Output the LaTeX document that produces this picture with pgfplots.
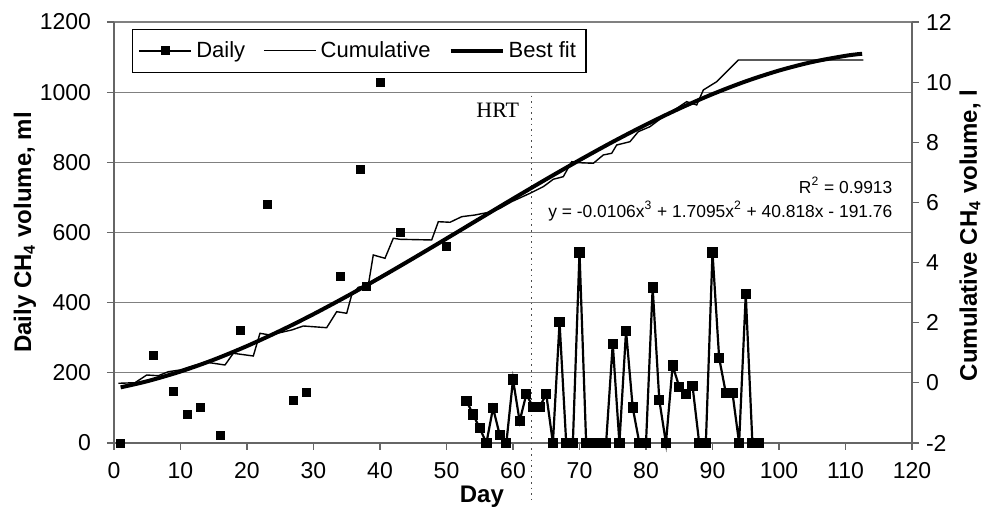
\documentclass[border=0pt]{standalone}
\usepackage{pgfplots}
\pgfplotsset{compat=1.18}
\usepackage{fontspec}
\setmainfont{Liberation Sans}
\newfontfamily\serifhrt{Liberation Serif}

\pgfplotstableread{
day ml
1 0
6 250
9 148
11 81
13 102
16 21
19 320
23 680
27 122
29 145
34 475
37 781
38 445
40 1028
43 600
50 560
}\dailyearly

\pgfplotstableread{
day ml
53 120
54 81
55 42
56 0
57 100
58 23
59 0
60 181
61 62
62 139
63 103
64 103
65 139
66 0
67 344
68 0
69 0
70 543
71 0
72 0
73 0
74 0
75 283
76 0
77 320
78 101
79 0
80 0
81 443
82 122
83 0
84 221
85 160
86 139
87 162
88 0
89 0
90 543
91 242
92 143
93 143
94 0
95 424
96 0
97 0
}\dailylate

\pgfplotstableread{
day L
0.65 -0.015
3.16 0.005
4.92 0.261
6.66 0.238
8.17 0.371
9.92 0.428
11.92 0.571
13.94 0.684
16.69 0.594
17.94 0.983
20.95 0.893
21.95 1.648
23.46 1.592
26.72 1.758
28.47 1.891
31.98 1.834
33.49 2.367
34.99 2.313
35.74 2.922
36.74 3.178
38.24 3.254
38.99 4.252
40.75 4.142
42.00 4.808
43.00 4.774
47.77 4.751
48.77 5.359
50.53 5.340
52.29 5.526
54.29 5.582
56.80 5.692
58.05 5.805
59.80 6.025
62.56 6.304
64.56 6.524
66.06 6.770
67.56 6.856
68.83 7.355
69.82 7.322
72.08 7.302
73.58 7.578
74.84 7.634
75.59 7.910
77.59 8.020
78.84 8.353
80.60 8.519
82.60 8.851
84.62 9.131
86.12 9.350
87.62 9.240
88.62 9.739
90.63 10.015
92.14 10.348
93.88 10.737
112.68 10.737
}\cumul

\pgfplotstableread{
day L
1 -0.149
5 0.054
10 0.377
15 0.769
20 1.224
25 1.732
30 2.285
35 2.877
40 3.498
45 4.141
50 4.798
55 5.461
60 6.122
65 6.773
70 7.406
75 8.014
80 8.587
85 9.119
90 9.601
95 10.026
100 10.385
105 10.670
110 10.875
112.5 10.944
}\bestfit

\begin{document}
\begin{tikzpicture}
\useasboundingbox (-57pt,-34.5pt) rectangle (434.5pt,221.5pt);
\begin{axis}[
  at={(0,0)}, anchor=south west,
  scale only axis, width=399pt, height=210.5pt,
  xmin=0, xmax=120, ymin=0, ymax=1200,
  xtick={0,10,...,120}, ytick={0,200,...,1200},
  axis y line*=left, axis x line*=bottom,
  ymajorgrids, grid style={black!50, line width=0.6pt},
  axis line style={black!60, line width=0.6pt},
  tick style={black!60, line width=0.6pt},
  tick align=outside, major tick length=3.5pt,
  /pgf/number format/assume math mode=true,
  /pgf/number format/1000 sep={},
  ticklabel style={font=\fontsize{11.5}{13}\selectfont},
  yticklabel style={xshift=-4.5pt},
  xticklabel style={yshift=-2.5pt},
  xlabel={\textbf{Day}},
  ylabel={\textbf{Daily CH\textsubscript{4} volume, ml}},
  label style={font=\fontsize{12}{14}\selectfont},
  xlabel style={at={(axis description cs:0.461,-0.128)}, anchor=center},
  ylabel style={at={(axis description cs:-0.1115,0.5)}, anchor=center},
  clip=false,
]
\addplot[black!70, dotted, line width=0.8pt] coordinates {(62.8,990) (62.8,-170)};
\addplot[only marks, mark=square*, mark size=2pt, black] table[x=day,y=ml] {\dailyearly};
\addplot[black, line width=1.1pt, mark=square*, mark size=2pt, mark options={solid}] table[x=day,y=ml] {\dailylate};
\node[font=\serifhrt\fontsize{11}{13}\selectfont] at (axis cs:57.7,949) {HRT};
\node[anchor=east, font=\fontsize{8.7}{10}\selectfont, inner sep=0pt] at (axis cs:117.1,735) {R\textsuperscript{2} = 0.9913};
\node[anchor=east, font=\fontsize{8.7}{10}\selectfont, inner sep=0pt] at (axis cs:117.1,661) {y = -0.0106x\textsuperscript{3} + 1.7095x\textsuperscript{2} + 40.818x - 191.76};
\end{axis}
\begin{axis}[
  at={(0,0)}, anchor=south west,
  scale only axis, width=399pt, height=210.5pt,
  xmin=0, xmax=120, ymin=-2, ymax=12,
  ytick={-2,0,...,12},
  axis y line*=right, axis x line=none,
  axis line style={black!60, line width=0.6pt},
  tick style={black!60, line width=0.6pt},
  tick align=outside, major tick length=3.5pt,
  /pgf/number format/assume math mode=true,
  ticklabel style={font=\fontsize{11.5}{13}\selectfont},
  ylabel={\textbf{Cumulative CH\textsubscript{4} volume, l}},
  label style={font=\fontsize{12}{14}\selectfont},
  ylabel style={at={(axis description cs:1.0727,0.493)}, anchor=center},
  legend style={at={(axis description cs:0.022,0.984)}, anchor=north west,
    draw=black, line width=0.6pt, legend columns=3,
    font=\fontsize{11}{13}\selectfont, inner xsep=3pt, inner ysep=4pt,
    /tikz/every even column/.append style={column sep=7pt}},
  legend image code/.code={\draw[mark repeat=2,mark phase=2,#1] plot coordinates {(0pt,0pt) (13pt,0pt) (26pt,0pt)};},
]
\addlegendimage{black, line width=1.1pt, mark=square*, mark size=1.6pt}
\addlegendentry{Daily}
\addplot[black, line width=0.7pt] table[x=day,y=L] {\cumul};
\addlegendentry{Cumulative}
\addplot[black, line width=2pt, smooth] table[x=day,y=L] {\bestfit};
\addlegendentry{Best fit}
\end{axis}
\end{tikzpicture}
\end{document}
